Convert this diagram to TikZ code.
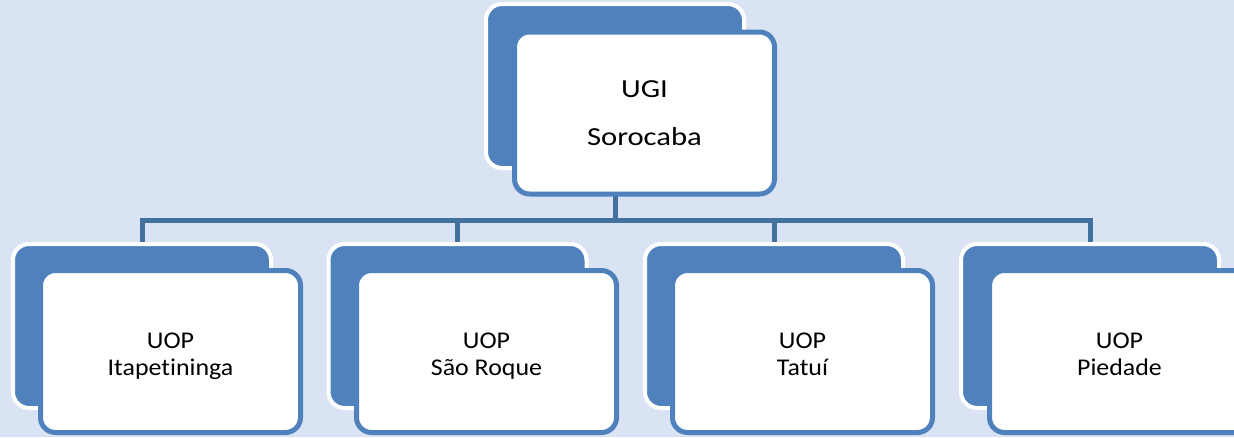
\documentclass[tikz,border=0pt]{standalone}
\usepackage{fontspec}
\setmainfont{Carlito}
\newfontfamily\topfont[FakeStretch=1.18,Ligatures=NoCommon]{Carlito}
\newfontfamily\childfont[FakeStretch=1.08,Ligatures=NoCommon]{Carlito}
\definecolor{bgc}{HTML}{DAE3F3}
\definecolor{accent}{HTML}{4F81BD}
\definecolor{linkc}{HTML}{41719C}
\newcommand{\txtline}[1]{#1\vphantom{Ig}}
\tikzset{
  backbox/.style={rectangle, fill=accent, draw=white, line width=4pt, rounded corners=16pt,
    minimum width=258pt, minimum height=164pt, inner sep=0pt},
  frontbox/.style={rectangle, fill=white, draw=accent, line width=5pt, rounded corners=15pt,
    minimum width=260pt, minimum height=162pt, inner sep=0pt},
  toptext/.style={inner sep=0pt, align=center, font=\topfont\fontsize{26}{48.3}\selectfont},
  childtext/.style={inner sep=0pt, align=center, font=\childfont\fontsize{24}{26.7}\selectfont},
  link/.style={draw=linkc, line width=5pt}
}
\begin{document}
\begin{tikzpicture}[x=1pt,y=-1pt]
\fill[bgc] (0,0) rectangle (1234,437);
\useasboundingbox (0,0) rectangle (1234,437);
\path (615,86) node[backbox, draw=none, fill=none] (tbk) {};
\path (142,326) node[backbox, draw=none, fill=none] (c1k) {};
\path (457.5,326) node[backbox, draw=none, fill=none] (c2k) {};
\path (774,326) node[backbox, draw=none, fill=none] (c3k) {};
\path (1090,326) node[backbox, draw=none, fill=none] (c4k) {};
\coordinate (bus) at (615,220);
% connectors
\draw[link] (tbk.south) -- (bus);
\draw[link] (c1k.north) -- (c1k.north |- bus) -- (c4k.north |- bus) -- (c4k.north);
\draw[link] (c2k.north) -- (c2k.north |- bus);
\draw[link] (c3k.north) -- (c3k.north |- bus);
% visible back boxes
\node[backbox] (tb) at (tbk) {};
\node[backbox] (c1b) at (c1k) {};
\node[backbox] (c2b) at (c2k) {};
\node[backbox] (c3b) at (c3k) {};
\node[backbox] (c4b) at (c4k) {};
% front boxes
\node[frontbox] (tf) at (644.5,113) {};
\node[frontbox] (c1f) at (170.5,351.5) {};
\node[frontbox] (c2f) at (486.5,351.5) {};
\node[frontbox] (c3f) at (802.5,351.5) {};
\node[frontbox] (c4f) at (1119.5,351.5) {};
% texts
\node[toptext, yshift=-2pt] (tt) at (tf) {\txtline{UGI}\\\txtline{Sorocaba}};
\node[childtext, yshift=-5pt] (c1t) at (c1f) {\txtline{UOP}\\\txtline{Itapetininga}};
\node[childtext, yshift=-5pt] (c2t) at (c2f) {\txtline{UOP}\\\txtline{São Roque}};
\node[childtext, yshift=-5pt] (c3t) at (c3f) {\txtline{UOP}\\\txtline{Tatuí}};
\node[childtext, yshift=-5pt] (c4t) at (c4f) {\txtline{UOP}\\\txtline{Piedade}};
\end{tikzpicture}
\end{document}
